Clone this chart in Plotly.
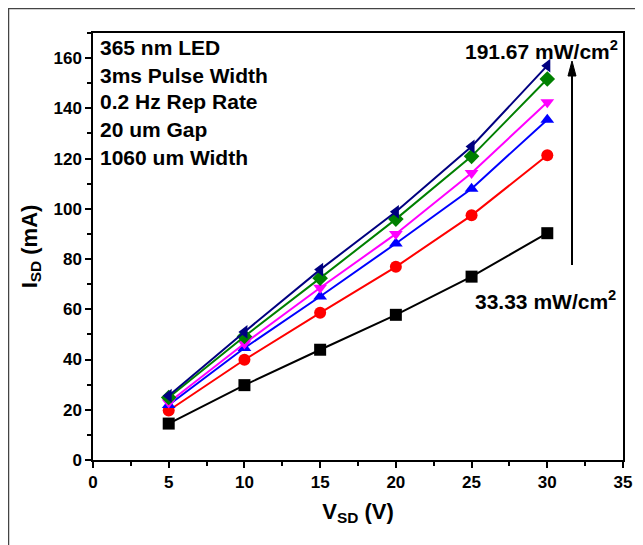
import plotly.graph_objects as go

vsd = [5, 10, 15, 20, 25, 30]
i_33 = [14.5, 29.8, 43.9, 57.8, 73.0, 90.3]
i_2 = [19.7, 39.9, 58.6, 76.9, 97.4, 121.3]
i_3 = [21.9, 44.6, 65.1, 86.2, 108.0, 135.5]
i_4 = [22.9, 46.4, 68.6, 90.0, 114.3, 142.4]
i_5 = [24.9, 49.2, 72.4, 95.9, 120.9, 151.7]
i_191 = [25.6, 51.0, 75.8, 98.8, 124.8, 157.0]

series = [
    (i_33, "#000000", "square"),
    (i_2, "#ff0000", "circle"),
    (i_3, "#0000ff", "triangle-up"),
    (i_4, "#ff00ff", "triangle-down"),
    (i_5, "#008000", "diamond"),
    (i_191, "#000080", "triangle-left"),
]

info_lines = ["365 nm LED", "3ms Pulse Width", "0.2 Hz Rep Rate", "20 um Gap", "1060 um Width"]

FONT = "Liberation Sans, Arial, sans-serif"

fig = go.Figure()
for ys, col, sym in series:
    fig.add_trace(go.Scatter(
        x=vsd, y=ys, mode="lines+markers",
        line=dict(color=col, width=2),
        marker=dict(symbol=sym, size=12, color=col),
        showlegend=False,
    ))

# page has an 8px body margin; figure starts at page (8, 8)
OFF = 8
W, H = 635, 537
PL, PR, PT, PB = 93, 623, 33, 460  # plot area in page pixels
L, R, T, B = PL - OFF, W - (PR - OFF), PT - OFF, H - (PB - OFF)
pw, ph = PR - PL, PB - PT

def px(x):
    return (x - PL) / pw

def py(y):
    return (PB - y) / ph

bold21 = dict(family=FONT, size=21, color="black", weight="bold")

annotations = []
line_y = [47, 75, 102, 129, 157]
for txt, yy in zip(info_lines, line_y):
    annotations.append(dict(
        x=px(98), y=py(yy), xref="paper", yref="paper", text=txt,
        showarrow=False, xanchor="left", yanchor="middle", font=bold21,
    ))
annotations.append(dict(
    x=px(620), y=py(50), xref="paper", yref="paper",
    text="191.67 mW/cm<sup>2</sup>", showarrow=False,
    xanchor="right", yanchor="middle", font=bold21,
))
annotations.append(dict(
    x=px(618), y=py(300), xref="paper", yref="paper",
    text="33.33 mW/cm<sup>2</sup>", showarrow=False,
    xanchor="right", yanchor="middle", font=bold21,
))

fig.update_layout(
    width=W, height=H,
    margin=dict(l=L, r=R, t=T, b=B),
    paper_bgcolor="white", plot_bgcolor="white",
    font=dict(family=FONT, color="black"),
    annotations=annotations,
    shapes=[
        dict(type="rect", xref="paper", yref="paper",
             x0=px(8.5), x1=px(700), y0=py(600), y1=py(8.5),
             line=dict(color="#444444", width=1.5), layer="below"),
        dict(type="line", xref="paper", yref="paper",
             x0=px(572), x1=px(572), y0=py(265), y1=py(72),
             line=dict(color="black", width=2)),
        dict(type="path", xref="paper", yref="paper",
             path="M %f,%f L %f,%f L %f,%f Z" % (px(568), py(76), px(572), py(61), px(576), py(76)),
             fillcolor="black", line=dict(color="black", width=1)),
    ],
    xaxis=dict(
        range=[0, 35], tickmode="array", tickvals=[0, 5, 10, 15, 20, 25, 30, 35],
        ticks="outside", ticklen=6, tickwidth=1.5, tickcolor="black",
        minor=dict(ticks="outside", ticklen=4, tickwidth=1.5, tickcolor="black", dtick=2.5),
        showline=True, linecolor="black", linewidth=1.5, mirror=True,
        showgrid=False, zeroline=False,
        tickfont=dict(family=FONT, size=17, color="black", weight="bold"),
        title=dict(text="V<sub>SD</sub> (V)", font=dict(family=FONT, size=22, weight="bold"), standoff=12),
    ),
    yaxis=dict(
        range=[0, 170], tickmode="array", tickvals=[0, 20, 40, 60, 80, 100, 120, 140, 160],
        ticks="outside", ticklen=6, tickwidth=1.5, tickcolor="black",
        minor=dict(ticks="outside", ticklen=4, tickwidth=1.5, tickcolor="black", dtick=10),
        showline=True, linecolor="black", linewidth=1.5, mirror=True,
        showgrid=False, zeroline=False,
        tickfont=dict(family=FONT, size=17, color="black", weight="bold"),
        title=dict(text="I<sub>SD</sub> (mA)", font=dict(family=FONT, size=22, weight="bold"), standoff=10),
    ),
)

fig.write_html("out.html")
